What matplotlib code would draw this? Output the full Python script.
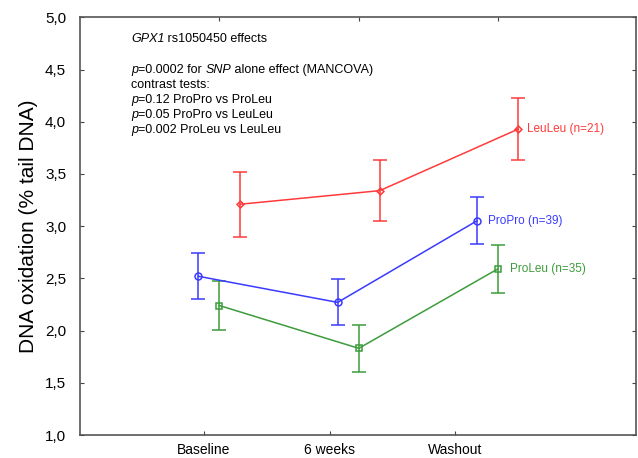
import matplotlib
matplotlib.use("Agg")
import matplotlib.pyplot as plt

plt.rcParams['font.family'] = ['Liberation Sans', 'DejaVu Sans']

# time points on the x axis
timepoints = ['Baseline', '6 weeks', 'Washout']
tick_pos = [1, 2, 3]

# genotype groups: x positions (slightly staggered), means and error half-widths
propro_x = [0.955, 2.065, 3.173]
propro_mean = [2.52, 2.27, 3.05]
propro_err = [0.22, 0.22, 0.225]

proleu_x = [1.122, 2.233, 3.340]
proleu_mean = [2.24, 1.83, 2.59]
proleu_err = [0.233, 0.227, 0.23]

leuleu_x = [1.289, 2.400, 3.504]
leuleu_mean = [3.21, 3.34, 3.93]
leuleu_err = [0.31, 0.295, 0.30]

blue = '#3a3aff'
green = '#3c9c3c'
red = '#ff3a3a'

fig = plt.figure(figsize=(6.38, 4.58), dpi=100)
ax = fig.add_axes([0.1254, 0.0502, 0.8715, 0.912])

def draw_group(x, y, e, color, marker, ms, label, label_dx):
    ax.errorbar(x, y, yerr=e, color=color, lw=1.1, elinewidth=1.1,
                capsize=5, capthick=1.1, marker=marker, ms=ms,
                mfc='none', mec=color, mew=1.1)
    ax.text(x[-1] + label_dx, y[-1], label, color=color, fontsize=8.5,
            va='center', ha='left')

draw_group(propro_x, propro_mean, propro_err, blue, 'o', 5, 'ProPro (n=39)', 0.09)
draw_group(proleu_x, proleu_mean, proleu_err, green, 's', 4.5, 'ProLeu (n=35)', 0.10)
draw_group(leuleu_x, leuleu_mean, leuleu_err, red, 'D', 3.5, 'LeuLeu (n=21)', 0.07)

ax.set_xlim(0.012, 4.442)
ax.set_ylim(1.0, 5.0)
ax.set_xticks(tick_pos)
ax.set_xticklabels(timepoints, fontsize=10)
yt = [1.0, 1.5, 2.0, 2.5, 3.0, 3.5, 4.0, 4.5, 5.0]
ax.set_yticks(yt)
ax.set_yticklabels([f'{v:.1f}'.replace('.', ',') for v in yt], fontsize=11)
ax.tick_params(direction='in', length=3, width=0.8, color='#444444',
               right=True, pad=6)
ax.tick_params(axis='y', pad=10)
top = ax.secondary_xaxis('top')
top.set_xticks(proleu_x)
top.set_xticklabels([])
top.tick_params(direction='in', length=3, width=0.8, color='#444444')
top.spines['top'].set_visible(False)
for s in ax.spines.values():
    s.set_color('#555555')
    s.set_linewidth(1.2)

ax.set_ylabel('DNA oxidation (% tail DNA)', fontsize=15)
ax.yaxis.set_label_coords(-0.075, 0.5)

# annotation block: each line is a list of (text, italic) pieces
lines = [
    (39, [('GPX1', True), (' rs1050450 effects', False)]),
    (70, [('p', True), ('=0.0002 for ', False), ('SNP', True),
          (' alone effect (MANCOVA)', False)]),
    (85, [('contrast tests:', False)]),
    (100, [('p', True), ('=0.12 ProPro vs ProLeu', False)]),
    (115, [('p', True), ('=0.05 ProPro vs LeuLeu', False)]),
    (130, [('p', True), ('=0.002 ProLeu vs LeuLeu', False)]),
]
renderer = fig.canvas.get_renderer()
for py, pieces in lines:
    x0 = 131
    for s, it in pieces:
        t = fig.text(x0 / 638, 1 - py / 458, s, fontsize=9, va='center',
                     ha='left', style='italic' if it else 'normal')
        x0 += t.get_window_extent(renderer).width

fig.savefig('out.png', dpi=100)
